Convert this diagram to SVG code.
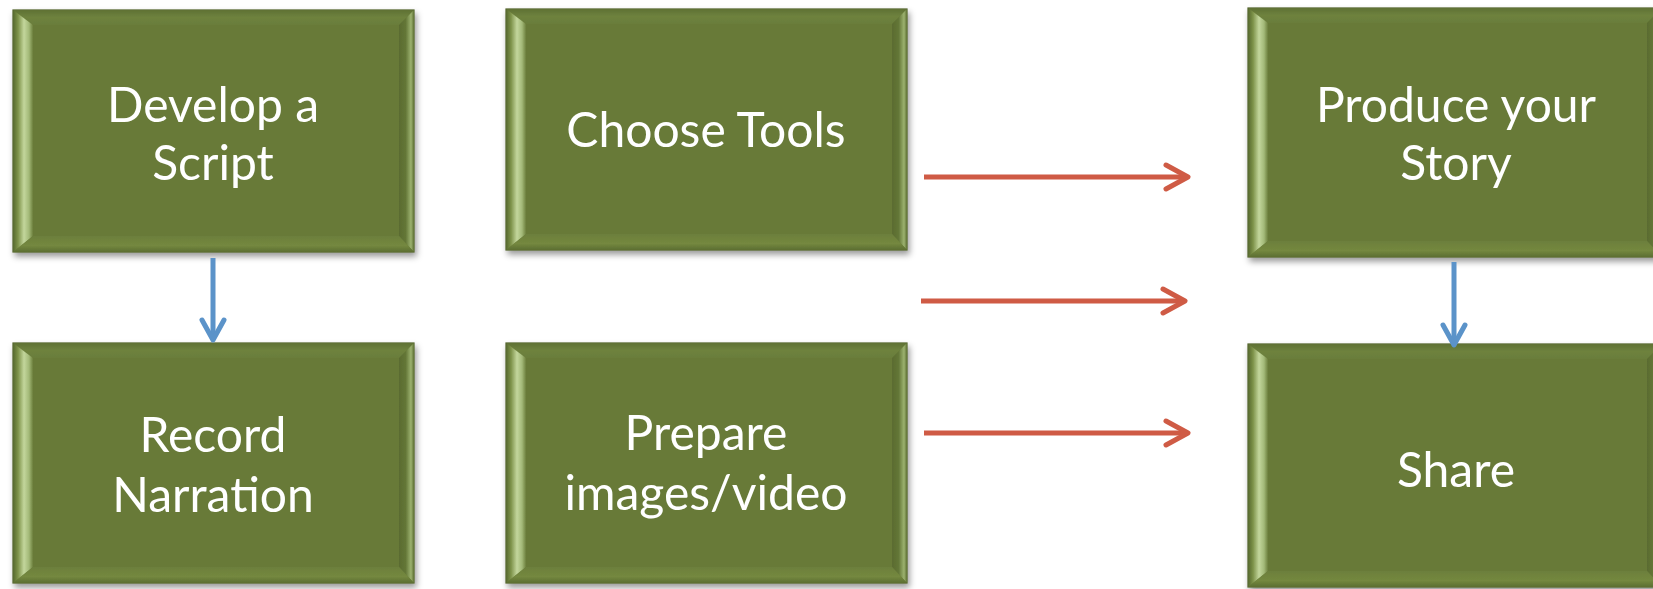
<svg xmlns="http://www.w3.org/2000/svg" width="1653" height="589" viewBox="0 0 1653 589">
<style>
.face{fill:#677a39;stroke:#4f6029;stroke-width:1.2}
.bt{fill:url(#gTop)}
.bl{fill:url(#gLeft)}
.br{fill:url(#gRight)}
.bb{fill:url(#gBottom)}
.lbl{font-family:Lato,"Liberation Sans",sans-serif;font-size:48px;fill:#ffffff;text-anchor:middle}
.red{stroke:#cf5b45;stroke-width:5;fill:none;marker-end:url(#redHead)}
.blue{stroke:#5b93c9;stroke-width:5;fill:none;marker-end:url(#blueHead)}
.box{filter:url(#shadow)}
</style>
<defs>
<linearGradient id="gTop" x1="0" y1="0" x2="0" y2="1">
<stop offset="0" stop-color="#5f7134"/><stop offset="0.5" stop-color="#6e823e"/><stop offset="1" stop-color="#6a7d3b"/>
</linearGradient>
<linearGradient id="gLeft" x1="0" y1="0" x2="1" y2="0">
<stop offset="0" stop-color="#56682e"/><stop offset="0.25" stop-color="#7d9249"/><stop offset="0.55" stop-color="#c3d69c"/><stop offset="0.8" stop-color="#a3b978"/><stop offset="1" stop-color="#6c7f3c"/>
</linearGradient>
<linearGradient id="gRight" x1="0" y1="0" x2="1" y2="0">
<stop offset="0" stop-color="#5a6b30"/><stop offset="0.45" stop-color="#647737"/><stop offset="0.8" stop-color="#9cb26f"/><stop offset="1" stop-color="#5e7034"/>
</linearGradient>
<linearGradient id="gBottom" x1="0" y1="0" x2="0" y2="1">
<stop offset="0" stop-color="#6c7f3c"/><stop offset="0.6" stop-color="#74883f"/><stop offset="1" stop-color="#5c6e32"/>
</linearGradient>
<filter id="shadow" x="-5%" y="-5%" width="115%" height="120%">
<feDropShadow dx="2" dy="4" stdDeviation="3" flood-color="#000" flood-opacity="0.4"/>
</filter>
<marker id="redHead" markerUnits="userSpaceOnUse" markerWidth="40" markerHeight="40" viewBox="-30 -20 40 40" refX="0" refY="0" orient="auto" overflow="visible">
<path d="M-22,-12 L0,0 L-22,12" fill="none" stroke="#cf5b45" stroke-width="5" stroke-linecap="round" stroke-linejoin="round"/>
</marker>
<marker id="blueHead" markerUnits="userSpaceOnUse" markerWidth="40" markerHeight="40" viewBox="-30 -20 40 40" refX="0" refY="0" orient="auto" overflow="visible">
<path d="M-20,-11 L0,0 L-20,11" fill="none" stroke="#5b93c9" stroke-width="5" stroke-linecap="round" stroke-linejoin="round"/>
</marker>
</defs>
<rect width="1653" height="589" fill="#ffffff"/>

<g id="develop-script" class="box">
<rect class="face" x="13" y="10" width="401" height="242"/>
<polygon class="bt" points="13,10 414,10 399,25 33,25"/>
<polygon class="bl" points="13,10 33,25 33,236 13,252"/>
<polygon class="br" points="414,10 414,252 399,236 399,25"/>
<polygon class="bb" points="13,252 414,252 399,236 33,236"/>
<text class="lbl" x="213" y="122">Develop a</text>
<text class="lbl" x="213" y="180">Script</text>
</g>

<g id="record-narration" class="box">
<rect class="face" x="13" y="343" width="401" height="240"/>
<polygon class="bt" points="13,343 414,343 399,358 33,358"/>
<polygon class="bl" points="13,343 33,358 33,567 13,583"/>
<polygon class="br" points="414,343 414,583 399,567 399,358"/>
<polygon class="bb" points="13,583 414,583 399,567 33,567"/>
<text class="lbl" x="213" y="452">Record</text>
<text class="lbl" x="213" y="512">Narration</text>
</g>

<g id="choose-tools" class="box">
<rect class="face" x="506" y="9" width="401" height="241"/>
<polygon class="bt" points="506,9 907,9 892,24 526,24"/>
<polygon class="bl" points="506,9 526,24 526,234 506,250"/>
<polygon class="br" points="907,9 907,250 892,234 892,24"/>
<polygon class="bb" points="506,250 907,250 892,234 526,234"/>
<text class="lbl" x="706" y="147">Choose Tools</text>
</g>

<g id="prepare-images" class="box">
<rect class="face" x="506" y="343" width="401" height="240"/>
<polygon class="bt" points="506,343 907,343 892,358 526,358"/>
<polygon class="bl" points="506,343 526,358 526,567 506,583"/>
<polygon class="br" points="907,343 907,583 892,567 892,358"/>
<polygon class="bb" points="506,583 907,583 892,567 526,567"/>
<text class="lbl" x="706" y="450">Prepare</text>
<text class="lbl" x="706" y="510">images/video</text>
</g>

<g id="produce-story" class="box">
<rect class="face" x="1248" y="8" width="414" height="249"/>
<polygon class="bt" points="1248,8 1662,8 1647,23 1268,23"/>
<polygon class="bl" points="1248,8 1268,23 1268,241 1248,257"/>
<polygon class="br" points="1662,8 1662,257 1647,241 1647,23"/>
<polygon class="bb" points="1248,257 1662,257 1647,241 1268,241"/>
<text class="lbl" x="1456" y="122">Produce your</text>
<text class="lbl" x="1456" y="180">Story</text>
</g>

<g id="share" class="box">
<rect class="face" x="1248" y="344" width="414" height="243"/>
<polygon class="bt" points="1248,344 1662,344 1647,359 1268,359"/>
<polygon class="bl" points="1248,344 1268,359 1268,571 1248,587"/>
<polygon class="br" points="1662,344 1662,587 1647,571 1647,359"/>
<polygon class="bb" points="1248,587 1662,587 1647,571 1268,571"/>
<text class="lbl" x="1456" y="487">Share</text>
</g>

<g id="connectors">
<line class="blue" x1="213" y1="258" x2="213" y2="340"/>
<line class="blue" x1="1454" y1="262" x2="1454" y2="345"/>
<line class="red" x1="924" y1="177" x2="1188" y2="177"/>
<line class="red" x1="921" y1="301" x2="1185" y2="301"/>
<line class="red" x1="924" y1="433" x2="1188" y2="433"/>
</g>
</svg>
